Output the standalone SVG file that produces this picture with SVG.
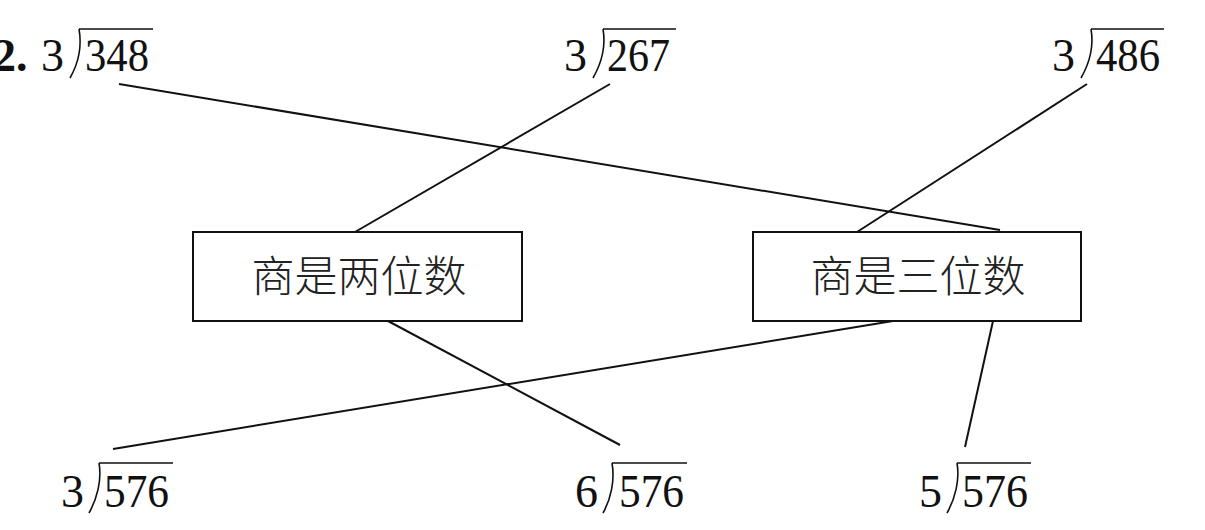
<svg xmlns="http://www.w3.org/2000/svg" width="1205" height="530" viewBox="0 0 1205 530">
<style>
.num{font-family:"Liberation Serif","Times New Roman",serif;font-size:46px;fill:#111}
.bold{font-weight:bold}
.br{fill:none;stroke:#111;stroke-width:1.6}
.box{fill:#fff;stroke:#111;stroke-width:2}
.lbl{font-family:"Noto Sans CJK SC",sans-serif;font-size:43px;fill:#222;text-anchor:middle;font-weight:300}
.conn line{stroke:#111;stroke-width:2}
</style>
<rect width="1205" height="530" fill="#fff"/>
<text class="num bold" x="-7" y="71">2.</text>
<g id="connectors" class="conn">
<line x1="119" y1="84" x2="1000" y2="230"/>
<line x1="610" y1="84" x2="355" y2="232"/>
<line x1="1087" y1="84" x2="857" y2="232"/>
<line x1="388" y1="321" x2="620" y2="445"/>
<line x1="893" y1="321" x2="113" y2="449"/>
<line x1="993" y1="321" x2="965" y2="447"/>
</g>
<g id="d348">
<text class="num" x="41" y="71">3</text>
<path class="br" d="M79,29 C82,46 78,64 70,78 M79,29 H153"/>
<text class="num" x="85" y="71" textLength="64" lengthAdjust="spacingAndGlyphs">348</text>
</g>
<g id="d267">
<text class="num" x="564" y="71">3</text>
<path class="br" d="M603,29 C606,46 601,64 593,78 M603,29 H676"/>
<text class="num" x="607" y="71" textLength="63" lengthAdjust="spacingAndGlyphs">267</text>
</g>
<g id="d486">
<text class="num" x="1052" y="71">3</text>
<path class="br" d="M1091,29 C1094,46 1089,64 1081,78 M1091,29 H1164"/>
<text class="num" x="1096" y="71" textLength="64" lengthAdjust="spacingAndGlyphs">486</text>
</g>
<g id="box1">
<rect class="box" x="193" y="232" width="329" height="89"/>
<text class="lbl" x="359" y="292">商是两位数</text>
</g>
<g id="box2">
<rect class="box" x="753" y="232" width="328" height="89"/>
<text class="lbl" x="918" y="292">商是三位数</text>
</g>
<g id="d576a">
<text class="num" x="61" y="507">3</text>
<path class="br" d="M99,463 C102,480 97,499 89,513 M99,463 H173"/>
<text class="num" x="104" y="507" textLength="65" lengthAdjust="spacingAndGlyphs">576</text>
</g>
<g id="d576b">
<text class="num" x="575" y="507">6</text>
<path class="br" d="M612,463 C615,480 611,499 603,513 M612,463 H687"/>
<text class="num" x="619" y="507" textLength="65" lengthAdjust="spacingAndGlyphs">576</text>
</g>
<g id="d576c">
<text class="num" x="919" y="507">5</text>
<path class="br" d="M957,463 C960,480 955,499 947,513 M957,463 H1031"/>
<text class="num" x="962" y="507" textLength="66" lengthAdjust="spacingAndGlyphs">576</text>
</g>
</svg>
